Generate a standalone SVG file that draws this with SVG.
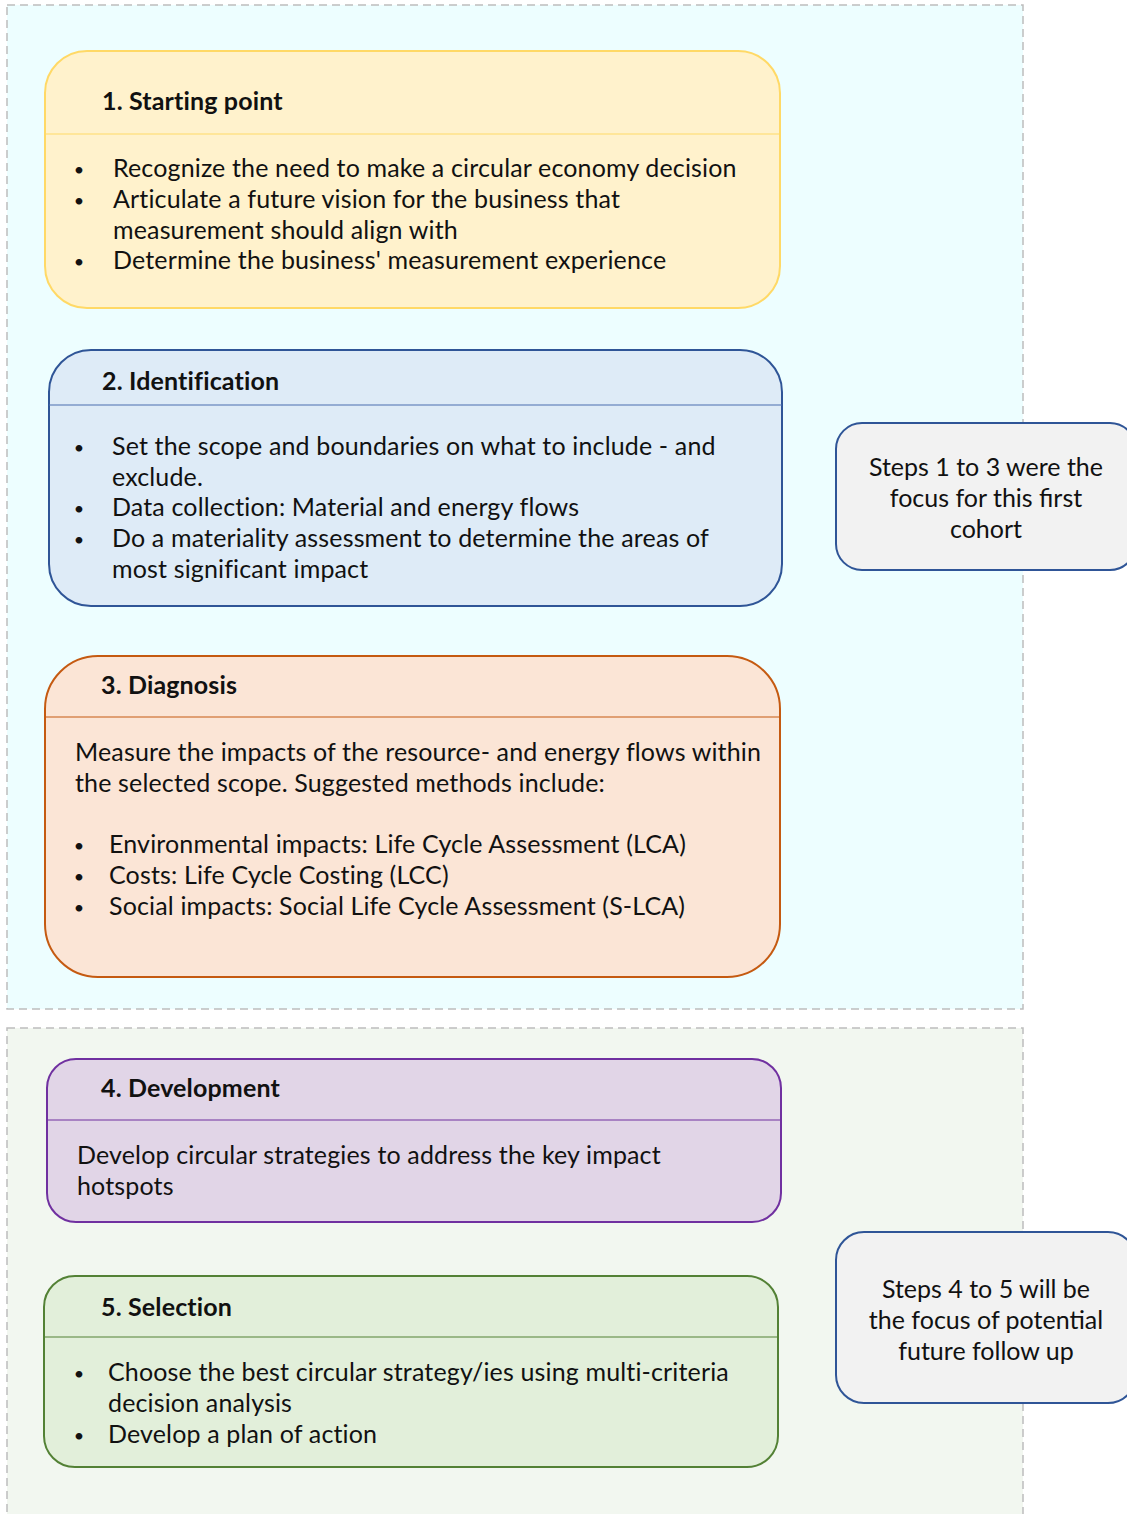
<svg xmlns="http://www.w3.org/2000/svg" width="1127" height="1514" viewBox="0 0 1127 1514">
<style>
text{font-family:Lato,"Liberation Sans",sans-serif;font-size:25px;letter-spacing:0.15px;fill:#111111}
.t{font-weight:bold}
.b{text-anchor:middle;font-size:18px;letter-spacing:0}
.c{text-anchor:middle;letter-spacing:0}
.cont{stroke:#BDBDBD;stroke-width:1.5;stroke-dasharray:8 5}
.box{stroke-width:2}
.div{stroke-width:1.2}
</style>
<rect width="1127" height="1514" fill="#FFFFFF"/>
<g id="group-top">
<rect class="cont" x="7" y="5" width="1016" height="1004" fill="#EDFEFF"/>
</g>
<g id="group-bottom">
<rect class="cont" x="7" y="1028" width="1016" height="500" fill="#F2F7F0"/>
</g>
<g id="connectors"></g>
<g id="step1">
<rect class="box" x="45" y="51" width="735" height="257" rx="42" ry="42" fill="#FFF2CC" stroke="#FFD966"/>
<line class="div" x1="45" y1="134" x2="780" y2="134" stroke="#FFD966"/>
<text class="t" x="102" y="110">1. Starting point</text>
<text class="b" x="79" y="176">•</text><text x="113" y="177">Recognize the need to make a circular economy decision</text>
<text class="b" x="79" y="207">•</text><text x="113" y="208">Articulate a future vision for the business that</text>
<text x="113" y="239">measurement should align with</text>
<text class="b" x="79" y="268">•</text><text x="113" y="269">Determine the business' measurement experience</text>
</g>
<g id="step2">
<rect class="box" x="49" y="350" width="733" height="256" rx="42" ry="42" fill="#DEEBF7" stroke="#2F5597"/>
<line class="div" x1="49" y1="405" x2="782" y2="405" stroke="#4A6FB0"/>
<text class="t" x="102" y="390">2. Identification</text>
<text class="b" x="79" y="454">•</text><text x="112" y="455">Set the scope and boundaries on what to include - and</text>
<text x="112" y="486">exclude.</text>
<text class="b" x="79" y="515">•</text><text x="112" y="516">Data collection: Material and energy flows</text>
<text class="b" x="79" y="546">•</text><text x="112" y="547">Do a materiality assessment to determine the areas of</text>
<text x="112" y="578">most significant impact</text>
</g>
<g id="step3">
<rect class="box" x="45" y="656" width="735" height="321" rx="53" ry="53" fill="#FBE5D6" stroke="#C55A11"/>
<line class="div" x1="45" y1="717" x2="780" y2="717" stroke="#C55A11"/>
<text class="t" x="101" y="694">3. Diagnosis</text>
<text x="75" y="761">Measure the impacts of the resource- and energy flows within</text>
<text x="75" y="792">the selected scope. Suggested methods include:</text>
<text class="b" x="79" y="852">•</text><text x="109" y="853">Environmental impacts: Life Cycle Assessment (LCA)</text>
<text class="b" x="79" y="883">•</text><text x="109" y="884">Costs: Life Cycle Costing (LCC)</text>
<text class="b" x="79" y="914">•</text><text x="109" y="915">Social impacts: Social Life Cycle Assessment (S-LCA)</text>
</g>
<g id="step4">
<rect class="box" x="47" y="1059" width="734" height="163" rx="29" ry="29" fill="#E1D5E7" stroke="#7030A0"/>
<line class="div" x1="47" y1="1120" x2="781" y2="1120" stroke="#7030A0"/>
<text class="t" x="101" y="1097">4. Development</text>
<text x="77" y="1164">Develop circular strategies to address the key impact</text>
<text x="77" y="1195">hotspots</text>
</g>
<g id="step5">
<rect class="box" x="44" y="1276" width="734" height="191" rx="31" ry="31" fill="#E2EFDA" stroke="#538135"/>
<line class="div" x1="44" y1="1337" x2="778" y2="1337" stroke="#538135"/>
<text class="t" x="101" y="1316">5. Selection</text>
<text class="b" x="79" y="1380">•</text><text x="108" y="1381">Choose the best circular strategy/ies using multi-criteria</text>
<text x="108" y="1412">decision analysis</text>
<text class="b" x="79" y="1442">•</text><text x="108" y="1443">Develop a plan of action</text>
</g>
<g id="note1">
<rect class="box" x="836" y="423" width="300" height="147" rx="26" ry="26" fill="#F2F2F2" stroke="#2F5597"/>
<text class="c" x="986" y="476">Steps 1 to 3 were the</text>
<text class="c" x="986" y="507">focus for this first</text>
<text class="c" x="986" y="538">cohort</text>
</g>
<g id="note2">
<rect class="box" x="836" y="1232" width="300" height="171" rx="28" ry="28" fill="#F2F2F2" stroke="#2F5597"/>
<text class="c" x="986" y="1298">Steps 4 to 5 will be</text>
<text class="c" x="986" y="1329">the focus of potential</text>
<text class="c" x="986" y="1360">future follow up</text>
</g>
</svg>
